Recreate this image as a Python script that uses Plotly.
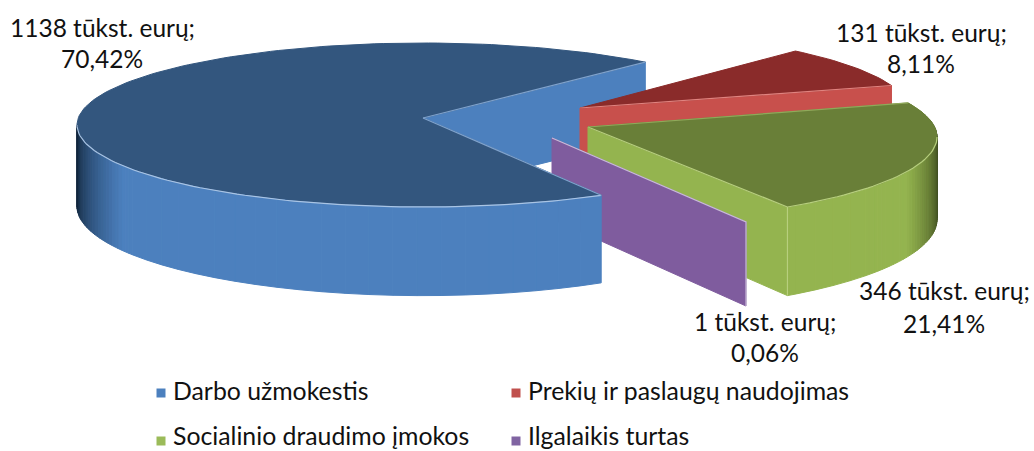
import math
import plotly.graph_objects as go

categories = ["Darbo užmokestis", "Prekių ir paslaugų naudojimas", "Socialinio draudimo įmokos", "Ilgalaikis turtas"]
values = [1138, 131, 346, 1]
percents = ["70,42%", "8,11%", "21,41%", "0,06%"]

total = sum(values)
sweeps = [v / total * 360 for v in values]

A, B = 346, 82


def depth(y):
    return 70 + 0.09 * y


def hexrgb(c):
    return tuple(int(c[i:i + 2], 16) for i in (1, 3, 5))


def lerp(c1, c2, t):
    a, b = hexrgb(c1), hexrgb(c2)
    return "rgb(%d,%d,%d)" % tuple(a[i] + (b[i] - a[i]) * t for i in range(3))


fig = go.Figure()


def poly(xs, ys, color, line=None, lw=1):
    fig.add_trace(go.Scatter(x=xs, y=ys, mode="lines", fill="toself", fillcolor=color,
                             line=dict(color=line or color, width=lw), hoverinfo="skip", showlegend=False))


def edge(xs, ys, color, lw=1.2):
    fig.add_trace(go.Scatter(x=xs, y=ys, mode="lines", line=dict(color=color, width=lw),
                             hoverinfo="skip", showlegend=False))


def pt(c, phi, a=A, b=B):
    r = math.radians(phi)
    return c[0] + a * math.cos(r), c[1] + b * math.sin(r)


def arc(c, p0, p1, b=B, step=1.5):
    n = max(2, int(abs(p1 - p0) / step))
    return [pt(c, p0 + (p1 - p0) * i / n, A, b) for i in range(n + 1)]


def top(apex, c, p0, p1, color, b=B):
    pts = [apex] + arc(c, p0, p1, b) + [apex]
    poly([p[0] for p in pts], [p[1] for p in pts], color)


def cutface(apex, p, color, d_apex=None):
    da = d_apex if d_apex is not None else depth(apex[1])
    dp = depth(p[1])
    poly([apex[0], p[0], p[0], apex[0], apex[0]],
         [apex[1], p[1], p[1] + dp, apex[1] + da, apex[1]], color)


def side(c, p0, p1, base, dark, b=B, limit=0.13):
    """Rim of a slice; the strips follow the horizontal distance so the shade is smooth."""
    phi = p0
    d = 1 if p1 > p0 else -1
    while (phi - p1) * d < 0:
        cs = abs(math.cos(math.radians(phi)))
        step = 4 if cs < 0.8 else 1.2
        nxt = phi + d * step
        if (nxt - p1) * d > 0:
            nxt = p1
        mid = (phi + nxt) / 2
        t = min(1, (1 - abs(math.cos(math.radians(mid)))) / limit)
        q, r = pt(c, phi, A, b), pt(c, nxt, A, b)
        poly([q[0], r[0], r[0], q[0], q[0]],
             [q[1], r[1], r[1] + depth(r[1]), q[1] + depth(q[1]), q[1]], lerp(dark, base, t ** 0.55))
        phi = nxt


BLUE_TOP, BLUE = "#33567E", "#4C80BE"
RED_TOP, RED = "#8A2B2A", "#C8504C"
GREEN_TOP, GREEN = "#697F38", "#94B44F"
PURPLE = "#7F5C9E"

# blue slice geometry
bc, ba = (423, 125), (423, 118)
b0 = 59
b1 = b0 + sweeps[0] * 0.99
bend = pt(bc, b1)
cutface(ba, bend, BLUE, 75)

# red slice
rc, ra = (564, 112), (580, 108)
r0 = b1 + 2
r1 = r0 + sweeps[1]
rend = pt(rc, r1)
cutface(ra, rend, RED)
top(ra, rc, r0, r1, RED_TOP)
edge([ra[0], rend[0]], [ra[1], rend[1]], "#E0837F")

# green slice
gc, ga = (591, 137), (588, 127)
g0 = -23.6
g1 = g0 + sweeps[2] * 1.025
gend = pt(gc, g1, A, 85)
gstart = pt(gc, g0, A, 85)
cutface(ga, gend, GREEN)
side(gc, g0, g1, GREEN, "#3E4C20", 85, 0.09)
top(ga, gc, g0, g1, GREEN_TOP, 85)
ga_pts = arc(gc, 0, g1, 85)
edge([p[0] for p in ga_pts], [p[1] for p in ga_pts], "#B7CF7E")
edge([gend[0], gend[0]], [gend[1], gend[1] + depth(gend[1])], "#B7CF7E")
edge([ga[0], gend[0]], [ga[1], gend[1]], "#B7CF7E")
edge([ga[0], gstart[0]], [ga[1], gstart[1]], "#8FA95A")

# purple slice: almost a flat plate
pa = (552, 138)
pe = (746, 222)
poly([pa[0], pe[0], pe[0], pa[0], pa[0]],
     [pa[1], pe[1], pe[1] + 84, pa[1] + 81, pa[1]], PURPLE)
edge([pa[0], pe[0], pe[0]], [pa[1], pe[1], pe[1] + 84], "#C9BBD8")

# blue top and rim on top of the others
top(ba, bc, b0, b1, BLUE_TOP)
side(bc, b0, 180, BLUE, "#12263C", B, 0.13)
bst = pt(bc, b0)
rim = arc(bc, b0, 180)
edge([p[0] for p in rim], [p[1] for p in rim], "#A9C4E4")
edge([ba[0], bst[0]], [ba[1], bst[1]], "#7FA2CC")
edge([ba[0], bend[0]], [ba[1], bend[1]], "#7FA2CC")

# data labels
label_pos = [(102, 27, 58), (921, 32, 63), (944, 290, 323), (765, 321, 352)]
label_text = [f"{v} tūkst. eurų;" for v in values]
annos = []
for (x, y1, y2), t1, t2 in zip(label_pos, label_text, percents):
    annos.append(dict(x=x, y=y1, text=t1, showarrow=False, xanchor="center", yanchor="middle"))
    annos.append(dict(x=x, y=y2, text=t2, showarrow=False, xanchor="center", yanchor="middle"))

# legend
leg_pos = [(161, 393, 390.5), (516, 393, 390.5), (161, 441, 435), (516, 441, 435)]
leg_col = [BLUE, "#C0504D", "#9BBB59", "#8064A2"]
for (x, y, ty), name, col in zip(leg_pos, categories, leg_col):
    fig.add_trace(go.Scatter(x=[x], y=[y], mode="markers", marker=dict(symbol="square", size=9, color=col),
                             hoverinfo="skip", showlegend=False))
    annos.append(dict(x=x + 9.5, y=ty, text=name, showarrow=False, xanchor="left", yanchor="middle",
                      font=dict(size=24.8)))

fig.update_layout(
    width=1034, height=451, margin=dict(l=0, r=0, t=0, b=0), autosize=False,
    paper_bgcolor="white", plot_bgcolor="white",
    font=dict(family="Lato", size=24.5, color="#111111"),
    xaxis=dict(range=[0, 1034], visible=False, fixedrange=True),
    yaxis=dict(range=[451, 0], visible=False, fixedrange=True),
    annotations=annos,
)
fig.write_html("out.html", post_script="document.body.style.margin='0';", config={"displayModeBar": False})
